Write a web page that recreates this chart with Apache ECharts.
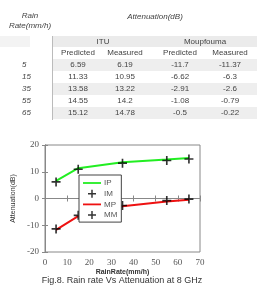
<!DOCTYPE html>
<html><head><meta charset="utf-8">
<script src="https://cdn.jsdelivr.net/npm/echarts@6/dist/echarts.min.js"></script>
<style>html,body{margin:0;padding:0;background:#fff}#c{width:257px;height:288px}</style>
</head><body><div id="c"></div>
<script>
const rainRates = [5, 15, 35, 55, 65];
const ituPredicted = [6.59, 11.33, 13.58, 14.55, 15.12];
const ituMeasured = [6.19, 10.95, 13.22, 14.2, 14.78];
const moupPredicted = [-11.7, -6.62, -2.91, -1.08, -0.5];
const moupMeasured = [-11.37, -6.3, -2.6, -0.79, -0.22];
const rowLabels = ['5', '15', '35', '55', '65'];
const xTicks = [0, 10, 20, 30, 40, 50, 60, 70];
const yTicks = [-20, -10, 0, 10, 20];

const plus = 'path://M4,0h1.8v4h4v1.8h-4v4h-1.8v-4h-4v-1.8h4z';
const lineIcon = 'path://M0,0H20V2H0z';

const chart = echarts.init(document.getElementById('c'));
const txt = '#444';
const font = 'Liberation Sans, Arial, sans-serif';
const g = [];
const rowY = [65, 77, 89, 101, 113];
g.push({type:'rect', shape:{x:53, y:36, width:204, height:11}, style:{fill:'#ebebeb'}, silent:true});
g.push({type:'rect', shape:{x:0, y:36, width:30, height:11}, style:{fill:'#f3f3f3'}, silent:true});
[0,2,4].forEach(i => g.push({type:'rect', shape:{x:53, y:rowY[i]-6, width:204, height:12}, style:{fill:'#eeeeee'}, silent:true}));
g.push({type:'line', shape:{x1:52.5, y1:36, x2:52.5, y2:120}, style:{stroke:'#bbb', lineWidth:1}, silent:true});
function t(x, y, s, opts) {
  g.push({type:'text', x:x, y:y, silent:true, style:Object.assign({text:s, fill:txt, font:'8px ' + font, align:'center', verticalAlign:'middle'}, opts||{})});
}
t(30, 16, 'Rain', {font:'italic 8px ' + font});
t(30, 26, 'Rate(mm/h)', {font:'italic 8px ' + font});
t(155, 17, 'Attenuation(dB)', {font:'italic 8px ' + font});
t(103, 42, 'ITU');
t(205, 42, 'Moupfouma');
t(78, 53, 'Predicted');
t(125, 53, 'Measured');
t(180, 53, 'Predicted');
t(230, 53, 'Measured');
const colX = [78, 125, 180, 230];
rowLabels.forEach((r, i) => {
  t(22, rowY[i], r, {font:'italic 8px ' + font, align:'left'});
  [ituPredicted, ituMeasured, moupPredicted, moupMeasured].forEach((arr, j) => t(colX[j], rowY[i], String(arr[i])));
});
t(122, 281, 'Fig.8. Rain rate Vs Attenuation at 8 GHz', {font:'9px ' + font, fill:'#333'});

const pairs = a => rainRates.map((x, i) => [x, a[i]]);
const axisLine = {show:true, lineStyle:{color:'#888', width:1}};
const tickStyle = {show:true, inside:true, length:3, lineStyle:{color:'#888'}};
const serif = 'Liberation Serif, Times New Roman, serif';

chart.setOption({
  animation:false,
  graphic:g,
  grid:{left:45, top:145, right:57, bottom:36, show:true, borderColor:'#888', borderWidth:1, backgroundColor:'#fff'},
  legend:{
    orient:'vertical', left:79, top:175,
    padding:[4,4,3,4], itemGap:2.7, itemWidth:18, itemHeight:8,
    borderColor:'#444', borderWidth:1, backgroundColor:'#fff',
    textStyle:{fontSize:8, color:'#555', fontFamily:font, padding:[0,0,0,-2]},
    data:[
      {name:'IP', icon:lineIcon, itemStyle:{color:'#22ee22'}},
      {name:'IM', icon:plus, itemStyle:{color:'#000'}},
      {name:'MP', icon:lineIcon, itemStyle:{color:'#ee1111'}},
      {name:'MM', icon:plus, itemStyle:{color:'#000'}}
    ]
  },
  xAxis:[{
    type:'value', min:0, max:70, interval:10,
    name:'RainRate(mm/h)', nameLocation:'middle', nameGap:17,
    nameTextStyle:{fontSize:7, color:'#333', fontWeight:'bold', fontFamily:font},
    axisLine:axisLine, axisTick:tickStyle, splitLine:{show:false},
    axisLabel:{fontSize:9, color:'#555', fontFamily:serif, margin:6}
  },{
    type:'value', min:0, max:70, interval:10, position:'top',
    axisLine:axisLine, axisTick:tickStyle, axisLabel:{show:false}, splitLine:{show:false}
  }],
  yAxis:[{
    type:'value', min:-20, max:20, interval:10,
    name:'Attenuation(dB)', nameLocation:'middle', nameGap:19,
    nameTextStyle:{fontSize:7, color:'#333', fontFamily:font},
    axisLine:axisLine, axisTick:tickStyle, splitLine:{show:false},
    axisLabel:{fontSize:9, color:'#555', fontFamily:serif, margin:6}
  },{
    type:'value', min:-20, max:20, interval:10, position:'right',
    axisLine:axisLine, axisTick:tickStyle, axisLabel:{show:false}, splitLine:{show:false}
  }],
  series:[
    {name:'IP', type:'line', data:pairs(ituPredicted), showSymbol:false, symbol:'none', lineStyle:{color:'#22ee22', width:2}, itemStyle:{color:'#22ee22'}, z:2},
    {name:'IM', type:'scatter', data:pairs(ituMeasured), symbol:plus, symbolSize:9, itemStyle:{color:'#000'}, z:3},
    {name:'MP', type:'line', data:pairs(moupPredicted), showSymbol:false, symbol:'none', lineStyle:{color:'#ee1111', width:2}, itemStyle:{color:'#ee1111'}, z:2},
    {name:'MM', type:'scatter', data:pairs(moupMeasured), symbol:plus, symbolSize:9, itemStyle:{color:'#000'}, z:3}
  ]
});
</script></body></html>
